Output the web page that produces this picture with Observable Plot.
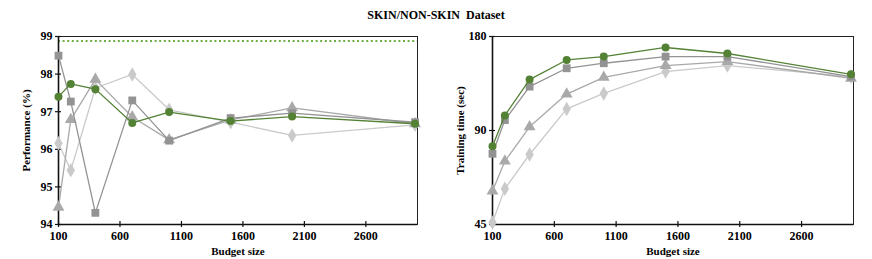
<!DOCTYPE html>
<html><head><meta charset="utf-8">
<script src="https://cdn.jsdelivr.net/npm/d3@7"></script>
<script src="https://cdn.jsdelivr.net/npm/@observablehq/plot@0.6"></script>
<style>
body{margin:0;background:#fff;}
#wrap{width:872px;font-family:'Liberation Serif';}
#title{height:24px;line-height:30px;text-align:center;font-weight:bold;font-size:12px;white-space:pre;color:#000;font-family:'Liberation Serif';}
#row{display:flex;}
</style></head><body>
<div id="wrap"><div id="title">SKIN/NON-SKIN  Dataset</div><div id="row"></div></div>
<script>
const budgets = [100, 200, 400, 700, 1000, 1500, 2000, 3000];
const xTicks = [100, 600, 1100, 1600, 2100, 2600];

const seriesKeys = ["circle", "square", "triangle", "diamond"];
const seriesColors = ["#548235", "#939393", "#a9a9a9", "#cacaca"];

const perfCircle   = [97.40, 97.74, 97.60, 96.70, 96.99, 96.75, 96.87, 96.68];
const perfSquare   = [98.49, 97.27, 94.31, 97.30, 96.23, 96.83, 96.96, 96.72];
const perfTriangle = [94.46, 96.79, 97.86, 96.86, 96.25, 96.78, 97.10, 96.68];
const perfDiamond  = [96.16, 95.44, 97.63, 97.99, 97.05, 96.72, 96.37, 96.65];
const perfReference = 98.88;
const perfTicks = [94, 95, 96, 97, 98, 99];

const timeCircle   = [80.2, 100.6, 131.0, 151.4, 155.2, 166.0, 158.8, 136.2];
const timeSquare   = [75.8, 97.2, 124.4, 142.4, 147.8, 155.2, 155.2, 133.9];
const timeTriangle = [57.6, 71.8, 92.5, 117.7, 133.2, 145.3, 149.6, 132.3];
const timeDiamond  = [45.7, 58.6, 75.4, 105.5, 118.3, 139.0, 145.3, 133.9];
const timeTicks = [45, 90, 180];

function table(arrays) {
  const rows = [];
  arrays.forEach((vals, i) => vals.forEach((v, j) => rows.push({budget: budgets[j], value: v, series: seriesKeys[i]})));
  return rows;
}

const xDomain = [100, 3020];

function panel({data, yScale, yTicks, yLabel, marginLeft, extra = []}) {
  const yMin = yScale.domain[0];
  const marks = [
    ...extra,
    Plot.frame({stroke: "#222", strokeWidth: 1}),
    Plot.ruleX([xDomain[0]], {stroke: "#111", strokeWidth: 1.6}),
    Plot.ruleY([yMin], {stroke: "#111", strokeWidth: 1.6}),
    Plot.axisX({ticks: xTicks, tickSize: 6, dy: -3, tickFormat: () => "", label: null, stroke: "#111", strokeWidth: 1.2}),
    Plot.axisX({ticks: xTicks, tickSize: 0, tickPadding: 7, label: null, tickFormat: d => String(d)}),
    Plot.axisX({ticks: [], label: "Budget size", labelArrow: false, labelAnchor: "center", labelOffset: 30, fontSize: 11}),
    Plot.axisY({ticks: yTicks, tickSize: 6, dx: 3, tickFormat: () => "", label: null, stroke: "#111", strokeWidth: 1.2}),
    Plot.axisY({ticks: yTicks, tickSize: 0, tickPadding: 6, label: null, tickFormat: d => String(d)}),
    Plot.axisY({ticks: [], label: yLabel, labelArrow: false, labelAnchor: "center", labelOffset: 36, fontSize: 11})
  ];
  const order = ["diamond", "triangle", "square", "circle"];
  for (const s of order) {
    const c = seriesColors[seriesKeys.indexOf(s)];
    const d = data.filter(r => r.series === s);
    marks.push(Plot.line(d, {x: "budget", y: "value", stroke: c, strokeWidth: 1.3}));
    marks.push(Plot.dot(d, {x: "budget", y: "value", fill: c, symbol: () => s, r: s === "circle" ? 4 : 4.4, stroke: "none"}));
  }
  return Plot.plot({
    width: 436, height: 235,
    marginLeft, marginRight: 19, marginTop: 12, marginBottom: 35,
    style: {fontFamily: "'Liberation Serif'", fontSize: "12px", fontWeight: "bold", color: "#000", background: "#fff"},
    x: {domain: xDomain, axis: null},
    y: {...yScale, axis: null},
    symbol: {domain: seriesKeys, range: ["circle", "square", "triangle", "diamond"]},
    marks
  });
}

const row = document.getElementById("row");
row.appendChild(panel({
  data: table([perfCircle, perfSquare, perfTriangle, perfDiamond]),
  yScale: {domain: [94, 99]},
  yTicks: perfTicks,
  yLabel: "Performance (%)",
  marginLeft: 58,
  extra: [Plot.ruleY([perfReference], {stroke: "#6fb043", strokeWidth: 2.2, strokeDasharray: "2,2.6"})]
}));
row.appendChild(panel({
  data: table([timeCircle, timeSquare, timeTriangle, timeDiamond]),
  yScale: {type: "log", base: 2, domain: [45, 180]},
  yTicks: timeTicks,
  yLabel: "Training time (sec)",
  marginLeft: 56
}));
</script>
</body></html>
